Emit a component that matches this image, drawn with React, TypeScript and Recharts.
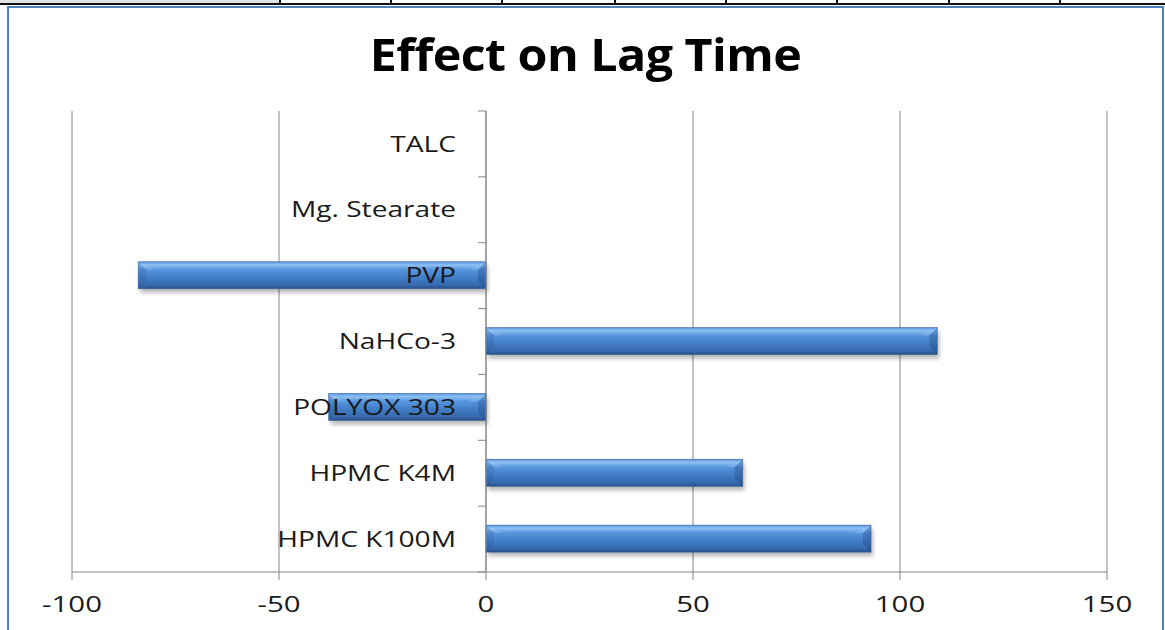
import React from 'react';
import { BarChart, Bar, XAxis, YAxis, CartesianGrid, ReferenceLine } from 'recharts';

// Excipient categories, listed bottom-to-top as on the category axis
const categories = ['HPMC K100M', 'HPMC K4M', 'POLYOX 303', 'NaHCo-3', 'PVP', 'Mg. Stearate', 'TALC'];
// Effect of each excipient on lag time
const lagEffect = [93, 62, -38, 109, -84, 0, 0];
// Value axis ticks
const xTicks = [-100, -50, 0, 50, 100, 150];

const data = categories.map((name, i) => ({ name, value: lagEffect[i] }));

// Column dividers of the document table sitting above the chart
const tableDividers = [280, 391, 502, 615, 726, 837, 949, 1060];

const FONT = '"Open Sans", "Liberation Sans", sans-serif';
const LABEL_STRETCH = 1.34;
const TICK_STRETCH = 1.4;
const GRID = '#868686';

const BevelBar = (props: any) => {
  const { x, y, width, height, index } = props;
  if (!width || Math.abs(width) < 0.5) return null;
  const left = Math.min(x, x + width);
  const w = Math.abs(width);
  const right = left + w;
  const top = y;
  const bottom = y + height;
  const b = Math.min(8, w / 2);
  const gid = `barGrad${index}`;
  const fid = `barShadow${index}`;
  return (
    <g>
      <defs>
        <linearGradient id={gid} x1="0" y1="0" x2="0" y2="1">
          <stop offset="0%" stopColor="#5B97DE" />
          <stop offset="12%" stopColor="#8CC0F3" />
          <stop offset="28%" stopColor="#5896DE" />
          <stop offset="60%" stopColor="#417DC6" />
          <stop offset="88%" stopColor="#3668AB" />
          <stop offset="100%" stopColor="#284F86" />
        </linearGradient>
        <filter id={fid} x="-10%" y="-50%" width="120%" height="200%">
          <feGaussianBlur stdDeviation="2.2" />
        </filter>
      </defs>
      <rect x={left + 2} y={top + 4} width={w} height={height} fill="#000" opacity={0.28} filter={`url(#${fid})`} />
      <rect x={left} y={top} width={w} height={height} fill={`url(#${gid})`} />
      {/* bevelled end caps */}
      <polygon points={`${left},${top} ${left + b},${top + b} ${left + b},${bottom - b} ${left},${bottom}`} fill="#1F4A85" opacity={0.18} />
      <polygon points={`${left},${top} ${left + b},${top + b} ${left + b * 2.2},${top + b}`} fill="#FFFFFF" opacity={0.12} />
      <polygon points={`${right},${top} ${right - b},${top + b} ${right - b},${bottom - b} ${right},${bottom}`} fill="#173C70" opacity={0.3} />
      <polygon points={`${right},${top} ${right - b},${top + b} ${right - b * 2.2},${top + b}`} fill="#9CC8F5" opacity={0.35} />
      <rect x={left} y={top} width={w} height={height} fill="none" stroke="#2E5E9C" strokeWidth={0.8} strokeOpacity={0.7} />
    </g>
  );
};

// Zero line with category tick marks and category names, anchored at x = 0
const ZeroAxis = (props: any) => {
  const { x1, y1, y2 } = props;
  const yTop = Math.min(y1, y2);
  const yBottom = Math.max(y1, y2);
  const band = (yBottom - yTop) / categories.length;
  const marks = [];
  for (let k = 0; k <= categories.length; k++) {
    const ty = yBottom - k * band;
    marks.push(<line key={`t${k}`} x1={x1 - 8} y1={ty} x2={x1} y2={ty} stroke={GRID} strokeWidth={1} />);
  }
  return (
    <g>
      <line x1={x1} y1={yTop} x2={x1} y2={yBottom} stroke={GRID} strokeWidth={1} />
      {marks}
      {categories.map((name, i) => {
        const cy = yBottom - (i + 0.5) * band;
        return (
          <text
            key={name}
            transform={`translate(${x1 - 30},${cy}) scale(${LABEL_STRETCH},1)`}
            textAnchor="end"
            dy="0.36em"
            fontFamily={FONT}
            fontSize={21}
            fill="#1A1A1A"
          >
            {name}
          </text>
        );
      })}
    </g>
  );
};

const XTick = (props: any) => {
  const { x, y, payload } = props;
  return (
    <text
      transform={`translate(${x},${y}) scale(${TICK_STRETCH},1)`}
      textAnchor="middle"
      dy="0.71em"
      fontFamily={FONT}
      fontSize={21}
      fill="#1A1A1A"
    >
      {payload.value}
    </text>
  );
};

export default function App() {
  return (
    <div style={{ position: 'absolute', left: 0, top: 0, width: 1165, height: 630, background: '#fff', overflow: 'hidden' }}>
      {/* document table edge above the chart */}
      <div style={{ position: 'absolute', left: 0, top: 0, width: 280, height: 3, background: '#E4E4E4' }} />
      <div style={{ position: 'absolute', left: 0, top: 3, width: 1165, height: 2, background: '#111' }} />
      {tableDividers.map((d) => (
        <div key={d} style={{ position: 'absolute', left: d - 1, top: 0, width: 2, height: 5, background: '#111' }} />
      ))}
      {/* chart frame */}
      <div
        style={{
          position: 'absolute',
          left: 7,
          top: 6,
          width: 1153,
          height: 660,
          border: '2px solid #4F81BD',
          background: '#fff',
        }}
      />
      <div
        style={{
          position: 'absolute',
          left: 8,
          top: 32,
          width: 1155,
          textAlign: 'center',
          fontFamily: FONT,
          fontWeight: 700,
          fontSize: 44,
          lineHeight: 1,
          color: '#000',
          letterSpacing: -0.5,
          transform: 'scaleX(1.1)',
        }}
      >
        Effect on Lag Time
      </div>
      <div style={{ position: 'absolute', left: 0, top: 0 }}>
        <BarChart
          width={1165}
          height={630}
          data={data}
          layout="vertical"
          margin={{ top: 111, right: 58, bottom: 0, left: 72 }}
        >
          <CartesianGrid horizontal={false} stroke={GRID} strokeWidth={1} />
          <XAxis
            type="number"
            domain={[-100, 150]}
            ticks={xTicks}
            height={58}
            stroke={GRID}
            tickLine={{ stroke: GRID }}
            tickSize={8}
            tickMargin={17}
            tick={<XTick />}
            interval={0}
          />
          <YAxis type="category" dataKey="name" reversed hide />
          <Bar dataKey="value" barSize={27} shape={<BevelBar />} isAnimationActive={false} />
          <ReferenceLine x={0} shape={<ZeroAxis />} />
        </BarChart>
      </div>
    </div>
  );
}
